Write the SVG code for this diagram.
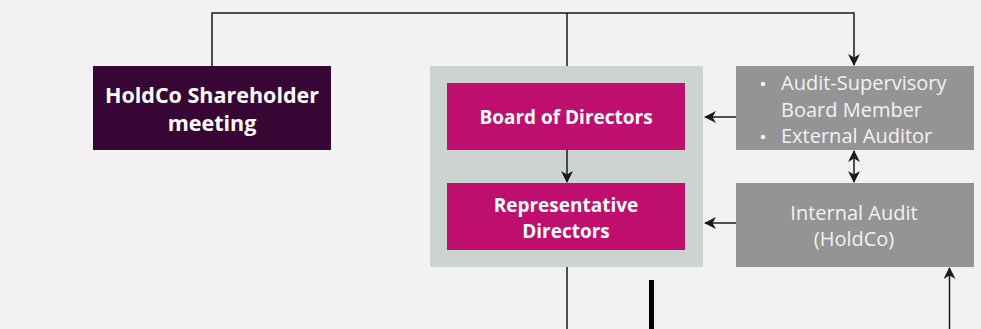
<svg xmlns="http://www.w3.org/2000/svg" width="981" height="329" viewBox="0 0 981 329">
<defs>
<style>
.ln{stroke:#1a1a1a;stroke-width:1.5;fill:none}
.bt{font-family:"Open Sans",Lato,sans-serif;font-weight:700;fill:#ffffff;text-anchor:middle}
.rt{font-family:"Open Sans",Lato,sans-serif;font-weight:400;fill:#f2f2f2;font-size:20px}
</style>
<marker id="ah" viewBox="0 0 12 14" refX="11" refY="7" markerWidth="12" markerHeight="14" markerUnits="userSpaceOnUse" orient="auto-start-reverse">
<path d="M0,1 L12,7 L0,13 L3.5,7 Z" fill="#1a1a1a"/>
</marker>
</defs>
<rect width="981" height="329" fill="#f1f2f1"/>
<g id="connectors">
<path class="ln" d="M212,66 V13 H854 V65" marker-end="url(#ah)"/>
<path class="ln" d="M567,13 V66"/>
<path class="ln" d="M736,117 H705" marker-end="url(#ah)"/>
<path class="ln" d="M736,223 H705" marker-end="url(#ah)"/>
<path class="ln" d="M854,151 V182" marker-start="url(#ah)" marker-end="url(#ah)"/>
<path class="ln" d="M567,267 V329"/>
<path d="M651.5,280 V329" stroke="#000" stroke-width="5"/>
<path class="ln" d="M949.5,329 V268" marker-end="url(#ah)"/>
</g>
<g id="holdco">
<rect x="93" y="66" width="238" height="84" fill="#380634"/>
<text class="bt" font-size="21.5" x="212" y="103">HoldCo Shareholder</text>
<text class="bt" font-size="21.5" x="212" y="131">meeting</text>
</g>
<g id="container">
<rect x="430" y="66" width="273" height="201" fill="#cdd3d1"/>
</g>
<g id="board">
<rect x="447" y="83" width="238" height="67" fill="#be0f6e"/>
<text class="bt" font-size="19" x="566" y="124">Board of Directors</text>
</g>
<path class="ln" d="M567,150 V182" marker-end="url(#ah)"/>
<g id="rep">
<rect x="447" y="183" width="238" height="67" fill="#be0f6e"/>
<text class="bt" font-size="19" x="566" y="212">Representative</text>
<text class="bt" font-size="19" x="566" y="238">Directors</text>
</g>
<g id="audit">
<rect x="736" y="66" width="238" height="84" fill="#949494"/>
<circle cx="763" cy="84" r="2.3" fill="#f2f2f2"/>
<circle cx="763" cy="137" r="2.3" fill="#f2f2f2"/>
<text class="rt" x="781" y="90">Audit-Supervisory</text>
<text class="rt" x="781" y="117">Board Member</text>
<text class="rt" x="781" y="143">External Auditor</text>
</g>
<g id="internal">
<rect x="736" y="183" width="238" height="84" fill="#949494"/>
<text class="rt" x="854" y="220" text-anchor="middle">Internal Audit</text>
<text class="rt" x="854" y="246" text-anchor="middle">(HoldCo)</text>
</g>
</svg>
